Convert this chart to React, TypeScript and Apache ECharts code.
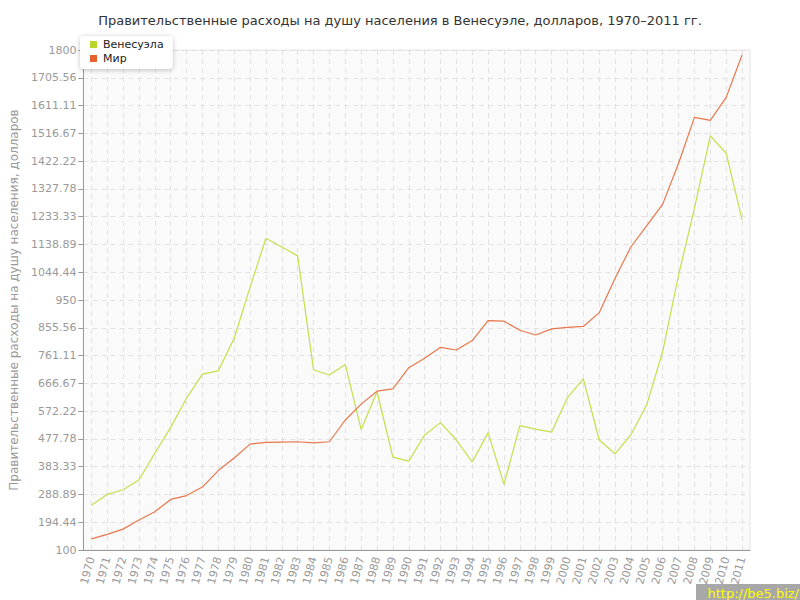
import React, { useEffect, useRef } from "react";
import * as echarts from "echarts";

const years: string[] = [];
for (let y = 1970; y <= 2011; y++) years.push(String(y));

const venezuela = [
  252, 289, 305, 338, 429, 517, 616, 698, 709, 820,
  993, 1160, 1130, 1100, 713, 695, 731, 510, 638, 416,
  402, 491, 533, 474, 399, 499, 323, 523, 511, 501,
  618, 682, 474, 427, 492, 595, 775, 1035, 1262, 1508,
  1449, 1223,
];

const world = [
  138, 153, 171, 202, 230, 272, 285, 314, 370, 413,
  460, 466, 467, 468, 464, 468, 542, 596, 640, 648,
  720, 752, 789, 780, 812, 880, 878, 847, 831, 852,
  857, 860, 907, 1024, 1131, 1203, 1276, 1415, 1571, 1561,
  1639, 1783,
];

const title = "Правительственные расходы на душу населения в Венесуэле, долларов, 1970–2011 гг.";
const yName = "Правительственные расходы на душу населения, долларов";
const seriesNames = ["Венесуэла", "Мир"];

// half-step categories for vertical grid lines at data points
const halfSteps: string[] = [];
for (let i = 0; i <= years.length * 2; i++) halfSteps.push(String(i));

export default function App() {
  const ref = useRef<HTMLDivElement>(null);
  useEffect(() => {
    if (!ref.current) return;
    const chart = echarts.init(ref.current, undefined, { renderer: "svg" });
    const font = "DejaVu Sans";
    chart.setOption({
      animation: false,
      textStyle: { fontFamily: font },
      title: {
        text: title,
        left: "center",
        top: 9,
        textStyle: { fontSize: 13, fontWeight: "normal", color: "#333", fontFamily: font },
      },
      legend: {
        orient: "vertical",
        left: 80,
        top: 36,
        padding: [3, 9, 5, 10],
        itemGap: 3,
        itemWidth: 7,
        itemHeight: 7,
        icon: "rect",
        backgroundColor: "#fff",
        borderRadius: 4,
        shadowBlur: 5,
        shadowColor: "rgba(0,0,0,0.25)",
        shadowOffsetY: 1,
        textStyle: { fontSize: 11, color: "#222", fontFamily: font, padding: [0, 0, 0, 1] },
        data: [
          { name: seriesNames[0], itemStyle: { color: "#b8d62c" } },
          { name: seriesNames[1], itemStyle: { color: "#e5612d" } },
        ],
      },
      grid: {
        left: 70,
        right: 50,
        top: 50,
        bottom: 50,
        show: true,
        backgroundColor: "#fafafa",
        borderColor: "#e4e4e4",
        borderWidth: 1,
      },
      xAxis: [
        {
          type: "category",
          data: years,
          boundaryGap: true,
          axisLine: { lineStyle: { color: "#999", width: 1 } },
          axisTick: { alignWithLabel: true, length: 5, lineStyle: { color: "#999" } },
          axisLabel: {
            rotate: 75,
            interval: 0,
            fontSize: 11,
            color: "#999",
            margin: 7,
            fontFamily: font,
          },
          splitLine: { show: false },
          z: 3,
        },
        {
          type: "category",
          data: halfSteps,
          boundaryGap: false,
          position: "bottom",
          axisLine: { show: false },
          axisTick: { show: false },
          axisLabel: { show: false },
          splitLine: {
            show: true,
            interval: (index: number) => index % 2 === 1,
            lineStyle: { color: "#e2e2e2", type: [5, 4], width: 1 },
          },
        },
      ],
      yAxis: {
        type: "value",
        min: 100,
        max: 1800,
        interval: 1700 / 18,
        name: yName,
        nameLocation: "middle",
        nameGap: 62,
        nameTextStyle: { fontSize: 12, color: "#999", fontFamily: font },
        axisLine: { show: true, lineStyle: { color: "#999", width: 1 } },
        axisTick: { show: true, length: 5, lineStyle: { color: "#999" } },
        axisLabel: {
          fontSize: 11,
          color: "#999",
          margin: 7,
          fontFamily: font,
          formatter: (v: number) => String(parseFloat(v.toFixed(2))),
        },
        splitLine: { show: true, lineStyle: { color: "#e2e2e2", type: [5, 4], width: 1 } },
      },
      series: [
        {
          name: seriesNames[0],
          type: "line",
          data: venezuela,
          symbol: "none",
          lineStyle: { color: "#c4df4c", width: 1.2 },
          itemStyle: { color: "#c4df4c" },
          z: 4,
        },
        {
          name: seriesNames[1],
          type: "line",
          data: world,
          symbol: "none",
          lineStyle: { color: "#e8774c", width: 1.2 },
          itemStyle: { color: "#e8774c" },
          z: 4,
        },
      ],
      graphic: [
        {
          type: "rect",
          right: 0,
          bottom: 0,
          shape: { width: 104, height: 16 },
          style: { fill: "#a8a8a8" },
          z: 100,
        },
        {
          type: "text",
          right: 1,
          bottom: 0,
          style: { text: "http://be5.biz/", fill: "#ffff00", fontSize: 13, fontFamily: font },
          z: 101,
        },
      ],
    });
    return () => chart.dispose();
  }, []);
  return <div ref={ref} style={{ width: 800, height: 600, position: "absolute", left: 0, top: 0 }} />;
}
